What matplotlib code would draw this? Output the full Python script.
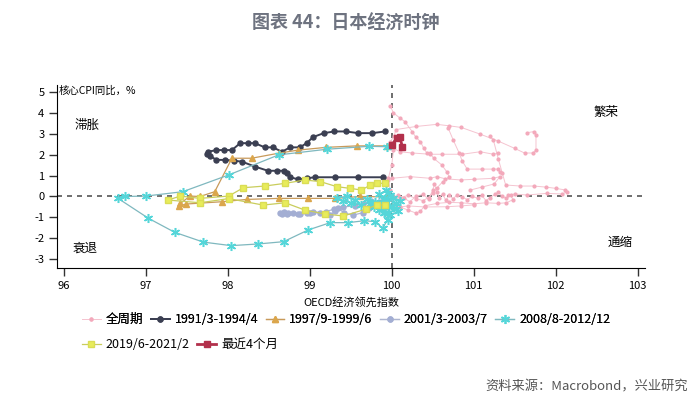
import matplotlib
matplotlib.use('Agg')
import matplotlib.pyplot as plt
import numpy as np

plt.rcParams['font.family'] = ['Noto Sans CJK SC', 'DejaVu Sans']
plt.rcParams['axes.unicode_minus'] = False

nan = np.nan

# 全周期 (nan breaks separate the traced strands)
all_x = [99.98, 100.02, 100.1, 100.16, 100.25, 100.29, 100.35, 100.39, 100.43, 100.47, 100.51, 100.61, 100.67, 100.7,
         100.62, 100.55, 100.5, 100.45, 100.38, 100.3, 100.2, 100.1, 100.02, nan,
         99.98, 99.96, 100.0, 100.02, 99.98, 100.03, 100.05, 100.3, 100.55, 100.7, 100.85, 101.08, 101.3, 101.5,
         101.62, 101.72, 101.76, 101.76, 101.73, 101.65, nan,
         100.69, 100.75, 100.82, 100.86, 100.92, 101.1, 101.24, 101.3, 101.32, nan,
         99.98, 100.1, 100.25, 100.47, 100.61, 100.86, 101.08, 101.24, 101.3, nan,
         101.2, 101.24, 101.3, 101.35, 101.39, 101.57, 101.73, 101.88, 102.0, 102.12, 102.14, 102.08, 101.89, 101.65,
         101.5, 101.42, nan,
         99.95, 100.0, 100.22, 100.47, 100.55, 100.65, 100.84, 101.0, 101.24, 101.32, 101.25, 101.1, 100.95, nan,
         100.0, 100.08, 100.15, 100.22, 100.3, 100.38, 100.45, 100.5, 100.52, 100.55, 100.58, 100.62, 100.66, 100.7,
         100.75, 100.8, 100.86, 100.92, 100.98, 101.05, 101.1, 101.15, 101.2, 101.26, 101.3, 101.35, 101.4, 101.45,
         101.48, 101.4, 101.3, 101.15, 101.0, 100.85, 100.7, 100.55, 100.4, 100.35, 100.3, 100.2, 100.1, 100.02, nan,
         100.0, 100.2, 100.4, 100.67, 100.85, 101.0]
all_y = [4.35, 4.0, 3.75, 3.58, 3.1, 2.86, 2.62, 2.31, 2.07, 2.07, 1.83, 1.51, 1.19, 0.95,
         0.7, 0.4, 0.15, -0.05, -0.2, -0.1, 0.05, -0.05, 0.0, nan,
         0.3, 0.9, 1.5, 2.2, 2.6, 2.9, 3.2, 3.35, 3.45, 3.38, 3.3, 2.98, 2.65, 2.3,
         2.08, 2.08, 2.2, 2.95, 3.1, 3.05, nan,
         3.26, 2.7, 2.1, 1.7, 1.31, 1.31, 1.31, 1.31, 1.19, nan,
         2.4, 2.14, 2.08, 2.02, 2.02, 2.02, 2.14, 2.02, 2.08, nan,
         2.9, 2.7, 1.8, 1.1, 0.55, 0.5, 0.5, 0.45, 0.39, 0.31, 0.23, 0.12, 0.15, 0.07,
         0.12, 0.05, nan,
         0.8, 0.87, 0.95, 0.87, 0.95, 0.85, 0.79, 0.82, 0.87, 0.95, 0.6, 0.45, 0.3, nan,
         -0.1, 0.05, -0.08, -0.25, 0.02, 0.1, -0.12, 0.3, 0.6, 0.2, -0.05, 0.12, -0.18, 0.05,
         -0.1, 0.08, -0.02, -0.15, 0.0, -0.08, 0.05, -0.2, -0.05, 0.1, 0.2, 0.0, -0.08, 0.05,
         -0.15, -0.3, -0.33, -0.3, -0.35, -0.3, -0.28, -0.33, -0.45, -0.7, -0.8, -0.65, -0.5, -0.4, nan,
         -0.55, -0.45, -0.5, -0.49, -0.45, -0.4]

# 1991/3-1994/4
s91_x = [99.92, 99.76, 99.59, 99.44, 99.30, 99.17, 99.04, 98.96, 98.88, 98.76, 98.66, 98.55, 98.45, 98.33, 98.25,
         98.15, 98.05, 97.95, 97.86, 97.76, 97.74, 97.78, 97.86, 97.97, 98.07, 98.17, 98.33, 98.49, 98.60, 98.69,
         98.72, 98.76, 98.86, 98.96, 99.06, 99.31, 99.59, 99.89]
s91_y = [3.11, 3.03, 3.03, 3.11, 3.11, 3.03, 2.84, 2.55, 2.35, 2.35, 2.14, 2.35, 2.35, 2.55, 2.55,
         2.55, 2.22, 2.22, 2.22, 2.14, 2.05, 1.95, 1.75, 1.75, 1.71, 1.67, 1.43, 1.23, 1.23, 1.23,
         1.14, 0.92, 0.82, 0.87, 0.92, 0.92, 0.92, 0.92]

# 1997/9-1999/6
s97_x = [99.94, 99.57, 99.2, 98.86, 98.62, 98.29, 98.05, 97.84, 97.66, 97.54, 97.42, 97.41, 97.49, 97.93,
         98.23, 98.63, 98.98, 99.31, 99.61, 99.93]
s97_y = [2.42, 2.42, 2.35, 2.22, 2.07, 1.83, 1.83, 0.23, 0.0, 0.02, -0.33, -0.45, -0.36, -0.25,
         -0.14, -0.09, -0.09, -0.09, 0.0, -0.02]

# 2001/3-2003/7
s01_x = [99.84, 99.78, 99.72, 99.65, 99.53, 99.42, 99.35, 99.31, 99.25, 99.12, 99.04, 98.96, 98.88, 98.80, 98.74,
         98.68, 98.64, 98.66, 98.72, 98.85, 99.0, 99.2, 99.3, 99.4, 99.55, 99.65, 99.75, 99.82, 99.9]
s01_y = [-0.25, -0.35, -0.55, -0.77, -0.89, -0.8, -0.56, -0.68, -0.89, -0.8, -0.73, -0.8, -0.84, -0.8, -0.8,
         -0.73, -0.8, -0.85, -0.84, -0.82, -0.78, -0.72, -0.6, -0.5, -0.45, -0.35, -0.2, -0.3, -0.15]

# 2008/8-2012/12
s08_x = [99.94, 99.72, 99.21, 98.62, 98.01, 97.45, 97.0, 96.74, 96.66, 97.03, 97.35, 97.70, 98.04, 98.37,
         98.68, 98.98, 99.25, 99.47, 99.66, 99.80, 99.89, 99.95, 99.9, 99.97, 100.05, 99.92, 99.85, 99.93,
         99.98, 100.1, 100.05, 99.88, 99.75, 99.62, 99.5, 99.4, 99.33, 99.45, 99.55, 99.7, 99.8, 99.9,
         100.0, 100.08, 99.98, 99.85, 99.78, 99.9, 99.95, 100.02, 99.93, 99.88, 99.95]
s08_y = [2.38, 2.4, 2.26, 1.99, 1.03, 0.23, 0.02, 0.0, -0.09, -1.04, -1.71, -2.18, -2.35, -2.27,
         -2.16, -1.6, -1.25, -1.25, -1.16, -1.2, -1.52, -1.1, -0.8, -0.5, -0.3, -0.15, 0.1, 0.3,
         0.05, -0.2, -0.6, -0.45, -0.3, -0.4, -0.3, -0.2, -0.05, 0.0, -0.15, -0.1, -0.25, -0.35,
         -0.45, -0.7, -0.9, -0.65, -0.5, -0.1, 0.15, -0.05, -0.25, -0.6, -0.8]

# 2019/6-2021/2
s19_x = [99.92, 99.82, 99.74, 99.63, 99.49, 99.33, 99.13, 98.94, 98.70, 98.45, 98.19, 98.01, 97.66, 97.42,
         97.27, 97.66, 98.01, 98.43, 98.70, 98.94, 99.19, 99.41, 99.68, 99.82, 99.92]
s19_y = [0.63, 0.63, 0.55, 0.31, 0.39, 0.47, 0.71, 0.79, 0.63, 0.5, 0.42, 0.02, -0.09, 0.02,
         -0.17, -0.3, -0.1, -0.41, -0.3, -0.65, -0.84, -0.93, -0.61, -0.41, -0.41]

# 最近4个月
last_x = [100.0, 100.06, 100.1, 100.13]
last_y = [2.45, 2.8, 2.85, 2.35]

fig = plt.figure(figsize=(7, 4.09), dpi=100)
ax = fig.add_axes([0.0814, 0.3447, 0.84, 0.4474])

ax.plot(all_x, all_y, color='#f5c4d0', lw=0.7, marker='o', ms=2.0, mfc='#f3a9bb', mec='#f3a9bb',
        label='全周期', zorder=2)
ax.plot(s91_x, s91_y, color='#3b3f52', lw=1.4, marker='o', ms=3.6, label='1991/3-1994/4', zorder=4)
ax.plot(s97_x, s97_y, color='#c89a5a', lw=0.9, marker='^', ms=4.5, mfc='#dba64c', mec='#dba64c',
        label='1997/9-1999/6', zorder=4)
ax.plot(s01_x, s01_y, color='#aeb6d0', lw=0.9, marker='o', ms=3.6, mfc='#a3aed3', mec='#a3aed3',
        label='2001/3-2003/7', zorder=4)
ax.plot(s08_x, s08_y, color='#7fb8bf', lw=0.9, marker=(6, 2, 0), ms=6.5, mec='#55d6d9', mew=1.1,
        label='2008/8-2012/12', zorder=4)
ax.plot(s19_x, s19_y, color='#c9cd5c', lw=0.9, marker='s', ms=4, mfc='#e8ec5a', mec='#dadd55',
        label='2019/6-2021/2', zorder=4)
ax.plot(last_x, last_y, color='#b2304b', lw=2.0, marker='s', ms=4.5, label='最近4个月', zorder=6)

ax.axhline(0, color='#555555', lw=1.2, ls=(0, (3, 3)), zorder=1)
ax.axvline(100, color='#555555', lw=1.2, ls=(0, (3, 3)), zorder=1)

ax.set_xlim(95.915, 103.09)
ax.set_ylim(-3.42, 5.33)
ax.set_xticks(range(96, 104))
ax.set_yticks(range(-3, 6))
ax.tick_params(axis='both', direction='out', length=6, width=1, labelsize=8, color='#333333')
ax.tick_params(axis='y', pad=3)
ax.spines['top'].set_visible(False)
ax.spines['right'].set_visible(False)
ax.set_xlabel('OECD经济领先指数', fontsize=8, labelpad=4)

ax.text(95.93, 5.08, '核心CPI同比，%', fontsize=7.5, ha='left', va='center')
ax.text(96.28, 3.42, '滞胀', fontsize=9, ha='center', va='center')
ax.text(96.26, -2.46, '衰退', fontsize=9, ha='center', va='center')
ax.text(102.61, 4.04, '繁荣', fontsize=9, ha='center', va='center')
ax.text(102.78, -2.18, '通缩', fontsize=9, ha='center', va='center')

fig.text(0.494, 1 - 23 / 409, '图表 44：日本经济时钟', fontsize=13, fontweight='bold',
         color='#6e7380', ha='center', va='center')
fig.text(688 / 700, 1 - 387 / 409, '资料来源：Macrobond，兴业研究', fontsize=9.5,
         color='#555555', ha='right', va='center')

handles, labels = ax.get_legend_handles_labels()
leg1 = fig.legend(handles[:5], labels[:5], loc='upper left', bbox_to_anchor=(82 / 700, 1 - 313 / 409),
                  ncol=5, frameon=False, fontsize=9, handlelength=1.5, handletextpad=0.4,
                  columnspacing=0.6, borderpad=0, borderaxespad=0)
fig.add_artist(leg1)
fig.legend(handles[5:], labels[5:], loc='upper left', bbox_to_anchor=(82 / 700, 1 - 338 / 409),
           ncol=2, frameon=False, fontsize=9, handlelength=1.5, handletextpad=0.4,
           columnspacing=0.6, borderpad=0, borderaxespad=0)

fig.savefig('out.png', dpi=100)
